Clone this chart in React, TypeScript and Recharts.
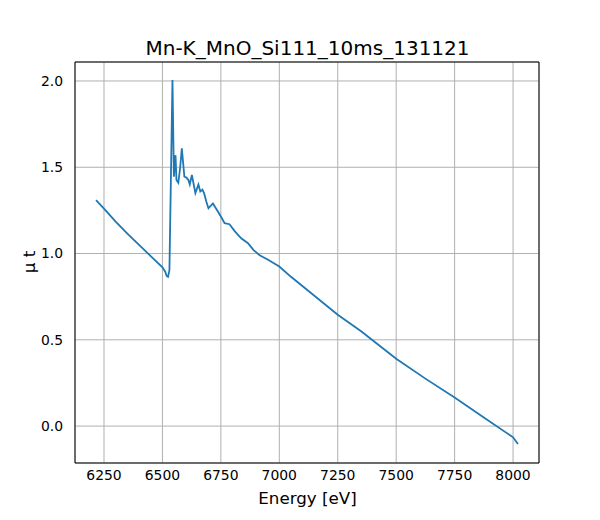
import React from "react";
import { LineChart, Line, XAxis, YAxis, CartesianGrid } from "recharts";

const energy = [6216, 6250, 6300, 6350, 6400, 6450, 6500, 6512, 6518, 6524, 6530, 6543, 6549, 6556, 6560, 6568, 6576, 6583, 6594, 6603, 6611, 6617, 6626, 6641, 6654, 6662, 6671, 6678, 6688, 6697, 6716, 6738, 6752, 6766, 6787, 6809, 6837, 6866, 6890, 6916, 6950, 7000, 7050, 7100, 7150, 7250, 7350, 7500, 7625, 7750, 7875, 8000, 8021];
const mu = [1.31, 1.26, 1.185, 1.115, 1.05, 0.985, 0.92, 0.895, 0.87, 0.865, 0.904, 2.005, 1.445, 1.57, 1.426, 1.41, 1.5, 1.61, 1.445, 1.44, 1.426, 1.40, 1.455, 1.35, 1.40, 1.36, 1.37, 1.35, 1.3, 1.262, 1.29, 1.242, 1.21, 1.176, 1.17, 1.13, 1.088, 1.06, 1.02, 0.99, 0.965, 0.925, 0.865, 0.81, 0.755, 0.645, 0.55, 0.39, 0.275, 0.165, 0.05, -0.065, -0.104];
const xTicks = [6250, 6500, 6750, 7000, 7250, 7500, 7750, 8000];
const yTicks = [0, 0.5, 1.0, 1.5, 2.0];

const data = energy.map((e, i) => ({ e, mu: mu[i] }));
const font = "DejaVu Sans";
const tickStyle = { fontFamily: font, fontSize: 13.9, fill: "#000" };

export default function App() {
  return (
    <div style={{ position: "absolute", left: 0, top: 0, width: 600, height: 520, background: "#fff" }}>
      <div style={{ position: "absolute", top: 36, left: 75, width: 465, textAlign: "center", fontFamily: font, fontSize: 20 }}>
        Mn-K_MnO_Si111_10ms_131121
      </div>
      <div style={{ position: "absolute", top: 488, left: 75, width: 465, textAlign: "center", fontFamily: font, fontSize: 16.7 }}>
        Energy [eV]
      </div>
      <div style={{ position: "absolute", left: 29, top: 262, transform: "translate(-50%,-50%) rotate(-90deg)", fontFamily: font, fontSize: 16.7, whiteSpace: "nowrap" }}>
        μ t
      </div>
      <LineChart width={600} height={520} data={data} margin={{ top: 61, right: 60, bottom: 0, left: 0 }}>
        <CartesianGrid xAxisId="b" yAxisId="l" stroke="#b0b0b0" strokeWidth={1} />
        <XAxis xAxisId="b" dataKey="e" type="number" domain={[6126, 8111]} ticks={xTicks} height={57}
          axisLine={{ stroke: "#000" }} tickLine={false} tick={tickStyle} tickMargin={1} allowDataOverflow />
        <XAxis xAxisId="t" orientation="top" dataKey="e" type="number" domain={[6126, 8111]} ticks={xTicks} height={1}
          axisLine={{ stroke: "#000" }} tickLine={false} tick={false} allowDataOverflow />
        <YAxis yAxisId="l" type="number" domain={[-0.214, 2.11]} ticks={yTicks} width={75}
          tickFormatter={(v: number) => v.toFixed(1)} axisLine={{ stroke: "#000" }} tickLine={false} tick={tickStyle} tickMargin={6} allowDataOverflow />
        <YAxis yAxisId="r" orientation="right" type="number" domain={[-0.214, 2.11]} ticks={yTicks} width={1}
          axisLine={{ stroke: "#000" }} tickLine={false} tick={false} allowDataOverflow />
        <Line xAxisId="b" yAxisId="l" dataKey="mu" type="linear" stroke="#1f77b4" strokeWidth={1.8} dot={false} isAnimationActive={false} />
      </LineChart>
    </div>
  );
}
